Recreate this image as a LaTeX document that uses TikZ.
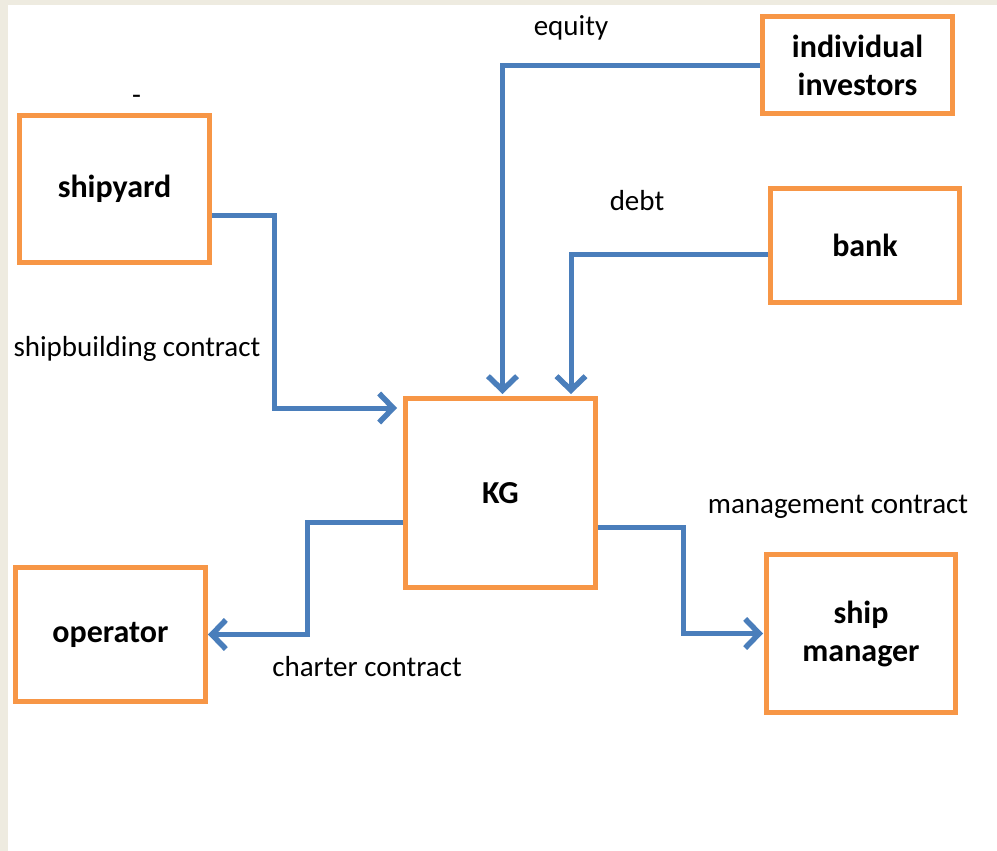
\documentclass[tikz,border=0pt]{standalone}
\usepackage{fontspec}
\setmainfont{Carlito}
\usetikzlibrary{arrows.meta,calc}
\definecolor{boxorange}{HTML}{F79646}
\definecolor{flowblue}{HTML}{4A7EBB}
\definecolor{cream}{HTML}{EEEBE0}
\tikzset{
  party/.style={rectangle,draw=boxorange,line width=5pt,fill=white,
    minimum width=190pt,inner sep=2pt,font=\fontsize{32}{38}\selectfont\bfseries,align=center},
  flow/.style={draw=flowblue,line width=5pt,
    -{Straight Barb[length=14pt,width=29pt,line width=5.5pt]}},
  lbl/.style={font=\fontsize{29}{37}\selectfont,inner sep=0pt}
}
\begin{document}
\begin{tikzpicture}[x=1pt,y=-1pt]
\fill[cream] (0,0) rectangle (997,851);
\fill[white] (8,5) rectangle (997,851);
\useasboundingbox (0,0) rectangle (997,851);

\node[party,minimum height=147pt] (shipyard) at (114.5,189) {shipyard};
\node[party,minimum height=97pt] (investors) at (857.5,65) {individual\\investors};
\node[party,minimum width=189pt,minimum height=114pt] (bank) at (865,245.5) {bank};
\node[party,minimum height=189pt] (KG) at (500.5,493) {KG};
\node[party,minimum height=134pt] (operator) at (110.5,634.5) {operator};
\node[party,minimum width=189pt,minimum height=158pt] (manager) at (861,633.5) {ship\\manager};

\node[lbl] (equity) at (571,28) {equity};
\node[lbl] (debt) at (637,201) {debt};
\node[lbl] (building) at (137,349) {shipbuilding contract};
\node[lbl] (management) at (838,507) {management contract};
\node[lbl] (charter) at (367,667) {charter contract};
\node[lbl,anchor=base] (dash) at (136.5,104) {-};

\draw[flow,shorten >=6pt] ($(shipyard.east)+(0,26)$) -- ++(62,0) |- ($(KG.west)+(0,-85)$);
\draw[flow,shorten >=2pt] ($(investors.west)+(0,1)$) -| ($(KG.north)+(2,0)$);
\draw[flow,shorten >=2pt] ($(bank.west)+(0,8.5)$) -| ($(KG.north)+(70.5,0)$);
\draw[flow] ($(KG.west)+(0,29)$) -- ++(-96,0) |- (operator.east);
\draw[flow,shorten >=1pt] ($(KG.east)+(0,34)$) -- ++(85,0) |- (manager.west);
\end{tikzpicture}
\end{document}
